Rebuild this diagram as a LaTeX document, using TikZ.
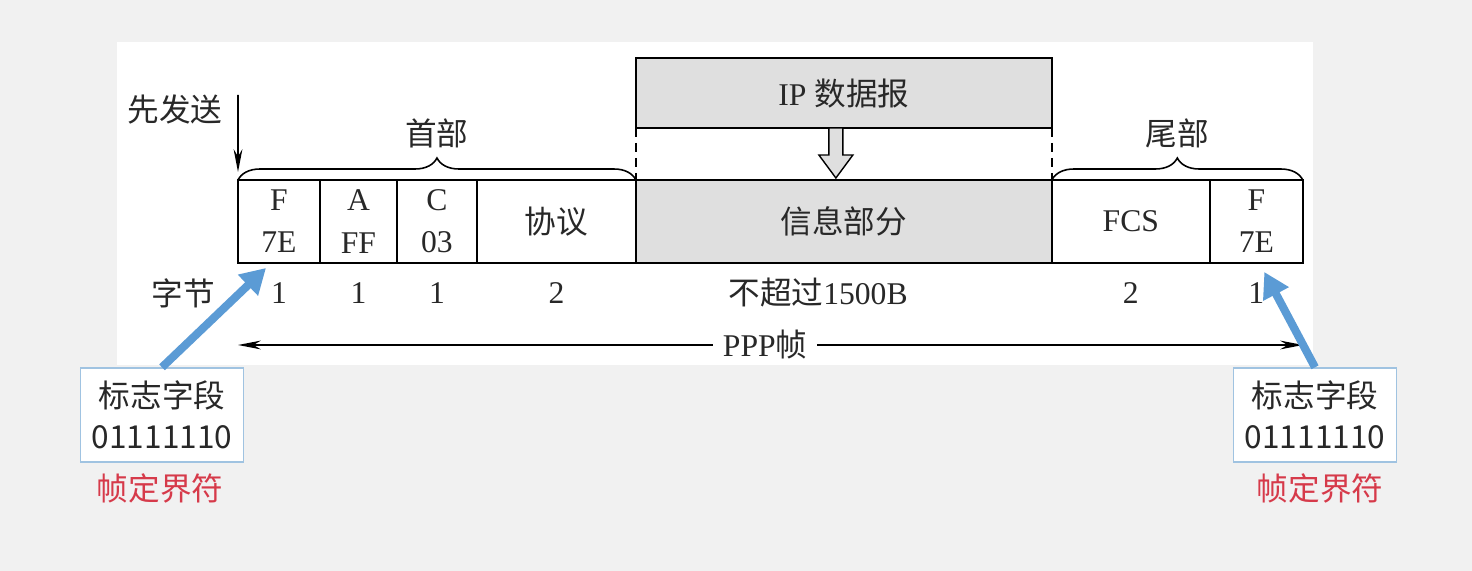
\documentclass[tikz,border=0pt]{standalone}
\usepackage{fontspec}
\setmainfont{Liberation Serif}
\newfontfamily\cjk{Noto Sans CJK SC}
\newcommand\zh[1]{{\cjk #1}}
\usetikzlibrary{arrows.meta,decorations.pathreplacing,positioning,calc}
\definecolor{bgray}{RGB}{241,241,241}
\definecolor{txt}{RGB}{40,40,40}
\definecolor{callblue}{RGB}{91,155,213}
\definecolor{callline}{RGB}{160,195,225}
\definecolor{markred}{RGB}{214,58,74}

\begin{document}
\begin{tikzpicture}[x=0.02cm,y=0.02cm,>={Stealth[length=13pt,width=5pt]},font=\fontsize{18}{22}\selectfont,text=txt,
  fld/.style={draw,line width=1pt,outer sep=0pt,minimum height=1.66cm,inner sep=0pt,align=center,font=\fontsize{18}{24}\selectfont},
  gfld/.style={fld,fill=gray!25},
  brc/.style={decorate,decoration={brace,amplitude=0.44cm},line width=0.9pt},
  callout/.style={draw=callline,line width=0.8pt,fill=white,minimum width=3.26cm,minimum height=1.88cm,align=center,font=\fontsize{18}{23}\selectfont\cjk},
  pointer/.style={callblue,line width=4.6pt,-{Triangle[length=0.5cm,width=0.55cm]}},
  flagnote/.style={text=markred,font=\fontsize{18}{22}\selectfont\cjk}]
\useasboundingbox (0,0) rectangle (1472,571);
\fill[bgray] (0,0) rectangle (1472,571); \fill[white] (117,206) rectangle (1313,529);
% PPP frame fields
\node[fld,minimum width=1.64cm] (f1) at (279,349.5) {F\\7E};
\node[fld,minimum width=1.54cm,right=0pt of f1] (fa) {A\\FF};
\node[fld,minimum width=1.60cm,right=0pt of fa] (fc) {C\\03};
\node[fld,minimum width=3.18cm,right=0pt of fc] (fp) {\zh{协议}};
\node[gfld,minimum width=8.32cm,right=0pt of fp] (info) {\zh{信息部分}};
\node[fld,minimum width=3.16cm,right=0pt of info] (fcs) {FCS};
\node[fld,minimum width=1.86cm,right=0pt of fcs] (fe) {F\\7E};
\node[gfld,minimum width=8.32cm,minimum height=1.4cm,above=1.04cm of info] (ip) {IP \zh{数据报}};
\draw[line width=1pt,dash pattern=on 5pt off 3.5pt] (ip.south west) -- (info.north west) (ip.south east) -- (info.north east);
\coordinate (tip) at ($(info.north)+(-8,2)$);
\draw[fill=gray!25,line width=0.8pt] (tip) -- ++(-17,23) -- ++(10,0) -- ++(0,27) -- ++(14,0) -- ++(0,-27) -- ++(10,0) -- cycle;
\draw[brc] (f1.north west) -- (fp.north east) node[midway,yshift=0.94cm] (head) {\zh{首部}};
\draw[brc] (info.north east) -- (fe.north east) node[midway,yshift=0.94cm] (tail) {\zh{尾部}};
\node (first) at (175,461) {\zh{先发送}};
\coordinate (snd) at (238,476);
\draw[->,line width=1pt,shorten >=0.16cm] (snd) -- (f1.north west);
% byte counts
\node (zj) at (183,278) {\zh{字节}};
\node at (f1 |- zj) {1}; \node at (fa |- zj) {1}; \node at (fc |- zj) {1}; \node at (fp |- zj) {2};
\node (max) at (818,278) {\zh{不超过}1500B};
\node at (fcs |- zj) {2}; \node at (fe |- zj) {1};
\coordinate (pl) at (238,226); \coordinate (pr) at (1303,226);
\draw[<->,line width=1pt] (pl) -- (pr) node[pos=0.495,fill=white,inner xsep=0.2cm] (ppp) {PPP\zh{帧}};
% flag callouts
\node[callout] (lbox) at (162,156) {标志字段\\01111110};
\node[callout] (rbox) at (1315,156) {标志字段\\01111110};
\node[flagnote] (lred) at (160,83) {帧定界符};
\node[flagnote] (rred) at (1320,83) {帧定界符};
\draw[pointer] (lbox.north) -- ($(f1.south)+(-13,-5)$);
\draw[pointer] (rbox.north) -- ($(fe.south)+(8,-9)$);
\end{tikzpicture}
\end{document}
